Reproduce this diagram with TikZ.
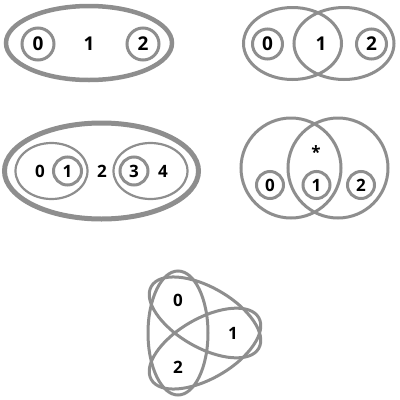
\documentclass[tikz,border=0pt]{standalone}
\usepackage{fontspec}
\setmainfont{Open Sans}
\usepackage{tikz}

\definecolor{ringgray}{RGB}{142,142,142}
\tikzset{
  ring/.style={draw=ringgray,line width=3pt},
  thinring/.style={draw=ringgray,line width=2.2pt},
  fatring/.style={draw=ringgray,line width=4.5pt},
  bignum/.style={inner sep=0pt,font=\bfseries\fontsize{19}{19}\selectfont},
  num/.style={inner sep=0pt,font=\bfseries\fontsize{17}{17}\selectfont}
}

\begin{document}
\begin{tikzpicture}[x=1pt,y=-1pt]
\useasboundingbox (0,0) rectangle (400,400);

% levo zgoraj
\coordinate (a) at (89,43);
\node[bignum] (a0) at (38,44) {0};
\node[bignum] (a1) at (89,44) {1};
\node[bignum] (a2) at (143,44) {2};
\draw[fatring] (a) ellipse (83pt and 37pt);
\draw[ring] (a0) circle (16pt);
\draw[ring] (a2) circle (16pt);

% desno zgoraj
\coordinate (bl) at (292.5,43.5);
\coordinate (bd) at (344,43.5);
\node[bignum] (b0) at (267.5,44) {0};
\node[bignum] (b1) at (321,44) {1};
\node[bignum] (b2) at (371.5,44) {2};
\draw[ring] (bl) ellipse (49pt and 36pt);
\draw[ring] (bd) ellipse (50pt and 36pt);
\draw[ring] (b0) circle (15pt);
\draw[ring] (b2) circle (15pt);

% levo na sredini
\coordinate (c) at (101.5,171);
\coordinate (cl) at (51.5,171);
\coordinate (cd) at (150.5,171);
\node[num] (c0) at (40,171) {0};
\node[num] (c1) at (67.5,171) {1};
\node[num] (c2) at (102,171) {2};
\node[num] (c3) at (134,171) {3};
\node[num] (c4) at (163,171) {4};
\draw[fatring,line width=5pt] (c) ellipse (97pt and 48pt);
\draw[thinring] (cl) ellipse (36pt and 28pt);
\draw[thinring] (cd) ellipse (37pt and 28pt);
\draw[ring] (c1) circle (14pt);
\draw[ring] (c3) circle (14pt);

% desno na sredini
\coordinate (dl) at (291,168);
\coordinate (dd) at (338,168);
\node[num] (d0) at (270,185) {0};
\node[num] (d1) at (316.5,185) {1};
\node[num] (d2) at (361,185) {2};
\node[num] (dz) at (316,152) {*};
\draw[ring] (dl) circle (50pt);
\draw[ring] (dd) circle (50pt);
\foreach \point in {d0,d1,d2}
\draw[ring] (\point) circle (13.5pt);

% spodaj
\coordinate (ev) at (178,333);
\coordinate (ea) at (205,317.4);
\coordinate (eb) at (205,348.6);
\node[num] (e0) at (178,300) {0};
\node[num] (e1) at (233,333) {1};
\node[num] (e2) at (178,367) {2};
\draw[ring,shift={(ev)},rotate=90] (0,0) ellipse (62pt and 30pt);
\draw[ring,shift={(ea)},rotate=-30] (0,0) ellipse (62pt and 30pt);
\draw[ring,shift={(eb)},rotate=30] (0,0) ellipse (62pt and 30pt);
\end{tikzpicture}
\end{document}
